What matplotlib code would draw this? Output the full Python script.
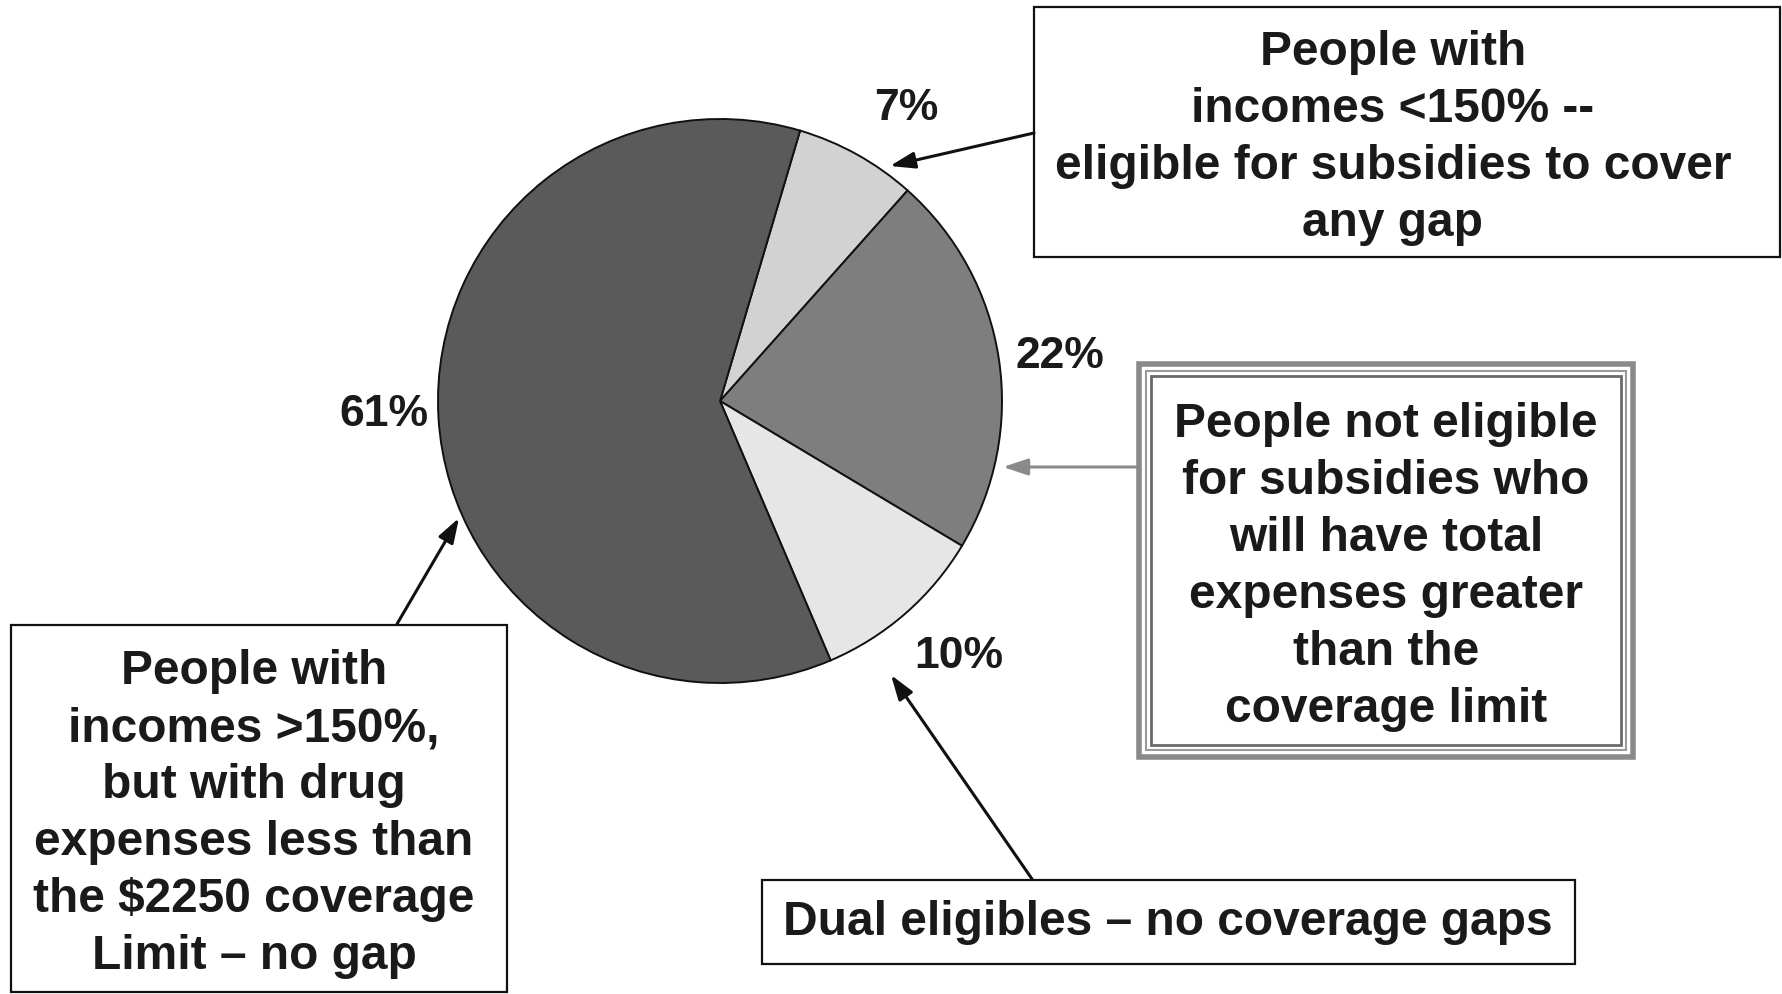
import matplotlib.pyplot as plt
from matplotlib.patches import Rectangle

plt.rcParams["font.family"] = ["Liberation Sans", "DejaVu Sans"]

# Share of beneficiaries by coverage-gap situation, clockwise from the top
shares = [7, 22, 10, 61]
slice_colors = ["#d2d2d2", "#7e7e7e", "#e6e6e6", "#5a5a5a"]

box_texts = [
    "People with\nincomes <150% --\neligible for subsidies to cover\nany gap",
    "People not eligible\nfor subsidies who\nwill have total\nexpenses greater\nthan the\ncoverage limit",
    "Dual eligibles \u2013 no coverage gaps",
    "People with\nincomes >150%,\nbut with drug\nexpenses less than\nthe $2250 coverage\nLimit \u2013 no gap",
]

W, H = 1783, 994
fig = plt.figure(figsize=(W / 100, H / 100), dpi=100)
ax = fig.add_axes([0, 0, 1, 1])

ax.pie(shares, colors=slice_colors, startangle=73.5, counterclock=False,
       center=(720, 593), radius=282,
       wedgeprops=dict(edgecolor="#111111", linewidth=1.4))
ax.set_xlim(0, W)
ax.set_ylim(0, H)
ax.set_aspect("equal")
ax.axis("off")

# percentage labels around the pie
label_pos = [(906, 886), (1060, 638), (959, 337), (384, 579)]
for v, (x, y) in zip(shares, label_pos):
    ax.text(x, y, f"{v}%", fontsize=32, fontweight="bold", color="#1a1a1a",
            ha="center", va="center")

# (x0, y0, width, height) of each callout box
boxes = [(1034, 737, 746, 250), (1139, 237, 494, 393),
         (762, 30, 813, 84), (11, 2, 496, 367)]
text_pos = [(1393, 856), (1386, 427), (1168, 71), (254, 180)]

for i, ((x0, y0, w, h), (tx, ty), txt) in enumerate(zip(boxes, text_pos, box_texts)):
    if i == 1:
        # triple-ruled frame
        ax.add_patch(Rectangle((x0, y0), w, h, fill=False, ec="#8a8a8a", lw=4))
        ax.add_patch(Rectangle((x0 + 7, y0 + 7), w - 14, h - 14, fill=False,
                               ec="#9a9a9a", lw=1.5))
        ax.add_patch(Rectangle((x0 + 12, y0 + 12), w - 24, h - 24, fill=False,
                               ec="#6a6a6a", lw=2))
    else:
        ax.add_patch(Rectangle((x0, y0), w, h, facecolor="white",
                               ec="#111111", lw=1.6))
    ax.text(tx, ty, txt, fontsize=34.5, fontweight="bold", color="#1a1a1a",
            ha="center", va="center", linespacing=1.34)

# arrows from the boxes to the slices
arrows = [((1034, 861), (890, 828), "#111111"),
          ((1139, 527), (1003, 527), "#8a8a8a"),
          ((1032, 115), (891, 319), "#111111"),
          ((397, 370), (459, 476), "#111111")]
for start, end, col in arrows:
    ax.annotate("", xy=end, xytext=start,
                arrowprops=dict(arrowstyle="-|>,head_length=1.5,head_width=0.5",
                                color=col, lw=2.2, shrinkA=0, shrinkB=0))

fig.savefig("out.png", dpi=100, facecolor="white")
